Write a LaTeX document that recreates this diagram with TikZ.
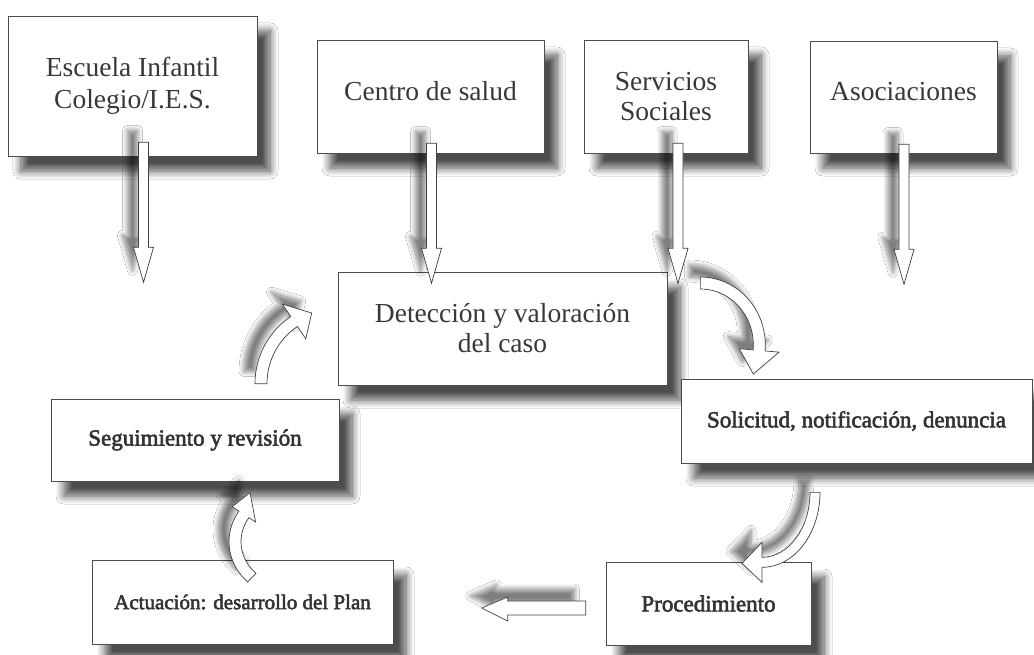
\documentclass[tikz,border=0pt]{standalone}
\usepackage{fontspec}
\setmainfont{Liberation Serif}
\newfontfamily\lowfam[FakeBold=2.5]{Liberation Serif}
\usetikzlibrary{calc,shadows.blur}

\tikzset{
  box/.style={draw=black!70, line width=0.7pt, fill=white, inner sep=0pt, align=center, text=black!78,
    blur shadow={shadow xshift=13pt, shadow yshift=-15pt, shadow blur radius=8pt, shadow blur steps=12, shadow opacity=70}},
  topfont/.style={font=\fontsize{27.5}{30}\selectfont},
  lowfont/.style={font=\lowfam\fontsize{23}{26}\selectfont, text=black!80},
  lowsmall/.style={font=\lowfam\fontsize{21}{24}\selectfont, text=black!80},
  blockarrow/.style={draw=black!75, line width=0.7pt, fill=white, line join=miter,
    blur shadow={shadow xshift=-11pt, shadow yshift=12pt, shadow blur radius=5pt, shadow blur steps=8, shadow opacity=50}},
}

\newcommand\downblock[1]{%
  \draw[blockarrow] ($(#1)+(-5,0)$) -- ++(10,0) -- ++(0,-105) -- ++(5,0) -- ++(-10,-35) -- ++(-10,35) -- ++(5,0) -- cycle;}

\newcommand\curvedblock[8]{%
  \pgfmathsetmacro\ao{#2+#6}\pgfmathsetmacro\bo{#3+#6}%
  \pgfmathsetmacro\ai{#2-#6}\pgfmathsetmacro\bi{#3-#6}%
  \pgfmathsetmacro\ah{#2+#7}\pgfmathsetmacro\bh{#3+#7}%
  \pgfmathsetmacro\al{#2-#7}\pgfmathsetmacro\bl{#3-#7}%
  \draw[blockarrow] ($(#1)+(#4:\ao pt and \bo pt)$) arc[start angle=#4, end angle=#5, x radius=\ao pt, y radius=\bo pt]
    -- ($(#1)+(#5:\ah pt and \bh pt)$) -- (#8) -- ($(#1)+(#5:\al pt and \bl pt)$)
    -- ($(#1)+(#5:\ai pt and \bi pt)$) arc[start angle=#5, end angle=#4, x radius=\ai pt, y radius=\bi pt] -- cycle;}

\begin{document}
\begin{tikzpicture}[x=1pt, y=1pt]
\useasboundingbox (0,0) rectangle (1034,-655);
\fill[white] (0,0) rectangle (1034,-655);

% boxes
\node[box, topfont, minimum width=249pt, minimum height=140pt] (b1) at (132.5,-86) {\raisebox{4pt}{Escuela Infantil}\\\raisebox{2pt}{Colegio/I.E.S.}};
\node[box, topfont, minimum width=227pt, minimum height=113pt] (b2) at (430.5,-96.5) {\raisebox{12pt}{Centro de salud}};
\node[box, topfont, minimum width=164pt, minimum height=113pt] (b3) at (666,-96.5) {Servicios\\Sociales};
\node[box, topfont, minimum width=187pt, minimum height=112pt] (b4) at (903.5,-97) {\raisebox{12pt}{Asociaciones}};
\node[box, topfont, minimum width=329pt, minimum height=113pt] (b5) at (502.5,-328.5) {Detección y valoración\\del caso};
\node[box, lowfont, minimum width=351pt, minimum height=84pt] (b6) at (856.5,-421) {Solicitud, notificación, denuncia};
\node[box, lowfont, minimum width=205pt, minimum height=83pt] (b7) at (708.5,-603.5) {Procedimiento};
\node[box, lowsmall, minimum width=301pt, minimum height=84pt] (b8) at (242.5,-602) {Actuación: desarrollo del Plan};
\node[box, lowfont, minimum width=288pt, minimum height=82pt] (b9) at (195,-440) {Seguimiento y revisión};

% straight down arrows
\coordinate (a1) at ($(b1.south)+(11,14)$);
\coordinate (a2) at ($(b2.south)+(1,10)$);
\coordinate (a3) at ($(b3.south)+(12,10)$);
\coordinate (a4) at ($(b4.south)+(0.5,9)$);
\downblock{a1}
\downblock{a2}
\downblock{a3}
\downblock{a4}

% horizontal arrow Procedimiento -> Actuacion
\coordinate (h1) at ($(b7.west)+(-20,-4.5)$);
\draw[blockarrow] (h1) ++(0,7) -- ++(-78,0) -- ++(0,4) -- ++(-26,-11) -- ++(26,-13) -- ++(0,6) -- ++(78,0) -- cycle;

% curved arrows
\coordinate (cA) at ($(b9.north)+(141,15)$);
\coordinate (tA) at ($(b5.west)+(-26,15.5)$);
\curvedblock{cA}{75}{75}{180}{124}{6}{21}{tA}

\coordinate (cB) at ($(b5.east)+(33,-16.5)$);
\coordinate (tB) at ($(b5.east)+(86,-45.5)$);
\curvedblock{cB}{59}{62}{90}{-5}{6}{20}{tB}

\coordinate (cC) at ($(b6.south)+(-94.5,-29)$);
\coordinate (tC) at ($(b6.south)+(-114.5,-100)$);
\curvedblock{cC}{53}{70}{0}{-90}{5}{20}{tC}

\coordinate (cD) at ($(b8.north)+(47.5,18)$);
\coordinate (tD) at ($(b8.north)+(7.5,67)$);
\curvedblock{cD}{55}{50}{226}{147}{6}{14}{tD}
\end{tikzpicture}
\end{document}
